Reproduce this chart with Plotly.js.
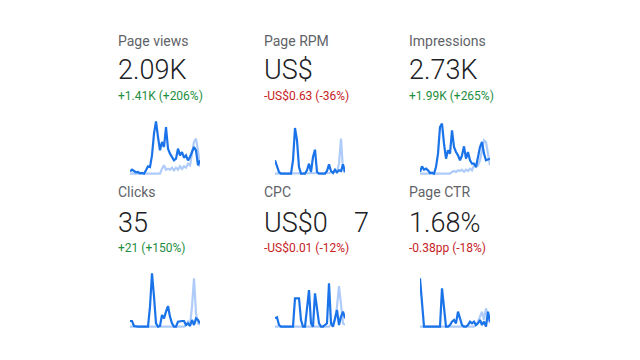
<!DOCTYPE html>
<html>
<head>
<meta charset="utf-8">
<script src="https://cdn.plot.ly/plotly-3.0.1.min.js"></script>
<style>html,body{margin:0;padding:0;background:#fff;}#chart{width:640px;height:360px;}</style>
</head>
<body>
<div id="chart"></div>
<script>
// Metric cards
const metricNames = ["Page views", "Page RPM", "Impressions", "Clicks", "CPC", "Page CTR"];
const metricValues = ["2.09K", "US$", "2.73K", "35", "US$0\u00a0\u00a0\u00a0\u00a07", "1.68%"];
const metricDeltas = ["+1.41K (+206%)", "-US$0.63 (-36%)", "+1.99K (+265%)", "+21 (+150%)", "-US$0.01 (-12%)", "-0.38pp (-18%)"];
const deltaPositive = [true, false, true, true, false, false];

// Sparkline series (relative daily values), current period and previous period
const pageViewsCur  = [7,12,8,4,5,1,2,0,10,22,20,55,120,157,110,70,95,80,140,75,60,50,40,45,75,55,65,48,55,40,50,65,80,70,25,40];
const pageViewsPrev = [0,0,0,0,0,0,0,0,0,0,0,0,0,0,0,0,15,25,12,15,12,18,10,18,12,22,14,22,18,30,25,60,95,105,70,20];
const pageRpmCur    = [40,25,5,0,0,0,0,0,0,40,137,100,20,0,0,0,10,30,5,50,72,5,0,0,0,0,8,28,8,2,12,4,10,8,28,5];
const pageRpmPrev   = [0,0,0,0,0,0,0,0,0,0,0,0,0,0,0,0,0,0,0,0,0,0,0,0,0,0,0,2,4,3,5,6,30,105,10,3];
const imprCur       = [5,22,12,15,10,2,3,0,20,60,140,150,90,45,70,60,130,80,65,55,40,55,82,45,65,40,30,30,20,50,80,95,60,40,42,45];
const imprPrev      = [0,0,0,0,0,0,0,0,0,0,0,0,0,0,0,0,5,8,5,10,8,12,6,12,8,15,10,25,20,25,40,70,100,95,60,25];
const clicksCur     = [17,17,2,0,0,0,0,0,0,0,60,160,90,10,0,2,35,25,45,62,30,10,0,0,15,17,17,17,5,10,2,20,5,25,20,10];
const clicksPrev    = [0,0,0,0,0,0,0,0,0,0,0,0,0,0,0,0,0,0,0,0,0,0,0,0,0,0,0,0,5,15,5,60,145,40,10,5];
const cpcCur        = [25,28,5,0,0,0,0,0,0,0,85,85,85,20,0,0,50,110,10,0,100,50,10,0,0,5,10,130,10,0,25,50,5,30,45,25];
const cpcPrev       = [0,0,0,0,0,0,0,0,0,0,0,0,0,0,0,0,0,0,0,0,0,0,0,0,0,0,0,0,5,10,20,60,122,60,10,5];
const ctrCur        = [145,70,0,0,0,0,0,0,0,0,0,115,60,0,0,5,15,20,10,45,25,5,0,0,5,15,10,15,5,10,20,5,15,0,45,15];
const ctrPrev       = [0,0,0,0,0,0,0,0,0,0,0,0,0,0,0,0,0,0,0,0,0,0,0,0,0,0,0,0,5,15,30,45,20,55,30,10];

const curSeries  = [pageViewsCur, pageRpmCur, imprCur, clicksCur, cpcCur, ctrCur];
const prevSeries = [pageViewsPrev, pageRpmPrev, imprPrev, clicksPrev, cpcPrev, ctrPrev];

const W = 640, H = 360;
const colLeft = [116, 262, 407];
const sparkX = [[130, 200], [275, 345], [420, 490]];
const rowLabelY = [40.5, 191.5];
const rowValueY = [70.5, 222.5];
const rowDeltaY = [96.5, 248];
const sparkY = [[119, 175], [270, 328]];
const sparkRange = [[-4, 164], [-4, 170]];

const traces = [];
const layout = {
  width: W, height: H,
  margin: {l: 0, r: 0, t: 0, b: 0},
  paper_bgcolor: "#ffffff", plot_bgcolor: "#ffffff",
  showlegend: false,
  font: {family: "Roboto, 'Noto Sans', sans-serif"},
  annotations: []
};

for (let k = 0; k < 6; k++) {
  const row = Math.floor(k / 3), col = k % 3;
  const ax = k + 1;
  const xa = ax === 1 ? "xaxis" : "xaxis" + ax;
  const ya = ax === 1 ? "yaxis" : "yaxis" + ax;
  const xr = ax === 1 ? "x" : "x" + ax;
  const yr = ax === 1 ? "y" : "y" + ax;
  const n = curSeries[k].length;
  const idx = curSeries[k].map((_, i) => i);
  layout[xa] = {domain: [sparkX[col][0] / W, sparkX[col][1] / W], range: [0, n - 1],
    visible: false, fixedrange: true};
  layout[ya] = {domain: [1 - sparkY[row][1] / H, 1 - sparkY[row][0] / H], range: sparkRange[row],
    visible: false, fixedrange: true};
  traces.push({x: idx, y: prevSeries[k], xaxis: xr, yaxis: yr, type: "scatter", mode: "lines",
    line: {color: "#aecbfa", width: 2.2}, hoverinfo: "skip"});
  traces.push({x: idx, y: curSeries[k], xaxis: xr, yaxis: yr, type: "scatter", mode: "lines",
    line: {color: "#1a73e8", width: 2.2}, hoverinfo: "skip"});

  const xp = colLeft[col] / W;
  layout.annotations.push({xref: "paper", yref: "paper", x: xp, y: 1 - rowLabelY[row] / H,
    xanchor: "left", yanchor: "middle", showarrow: false, text: metricNames[k],
    font: {size: 14, color: "#5f6368"}});
  layout.annotations.push({xref: "paper", yref: "paper", x: xp, y: 1 - rowValueY[row] / H,
    xanchor: "left", yanchor: "middle", showarrow: false, text: metricValues[k],
    font: {size: 27, color: "#202124", weight: 300}});
  layout.annotations.push({xref: "paper", yref: "paper", x: xp, y: 1 - rowDeltaY[row] / H,
    xanchor: "left", yanchor: "middle", showarrow: false, text: metricDeltas[k],
    font: {size: 12, color: deltaPositive[k] ? "#1e8e3e" : "#c5221f"}});
}

Plotly.newPlot("chart", traces, layout, {displayModeBar: false, staticPlot: true});
</script>
</body>
</html>
